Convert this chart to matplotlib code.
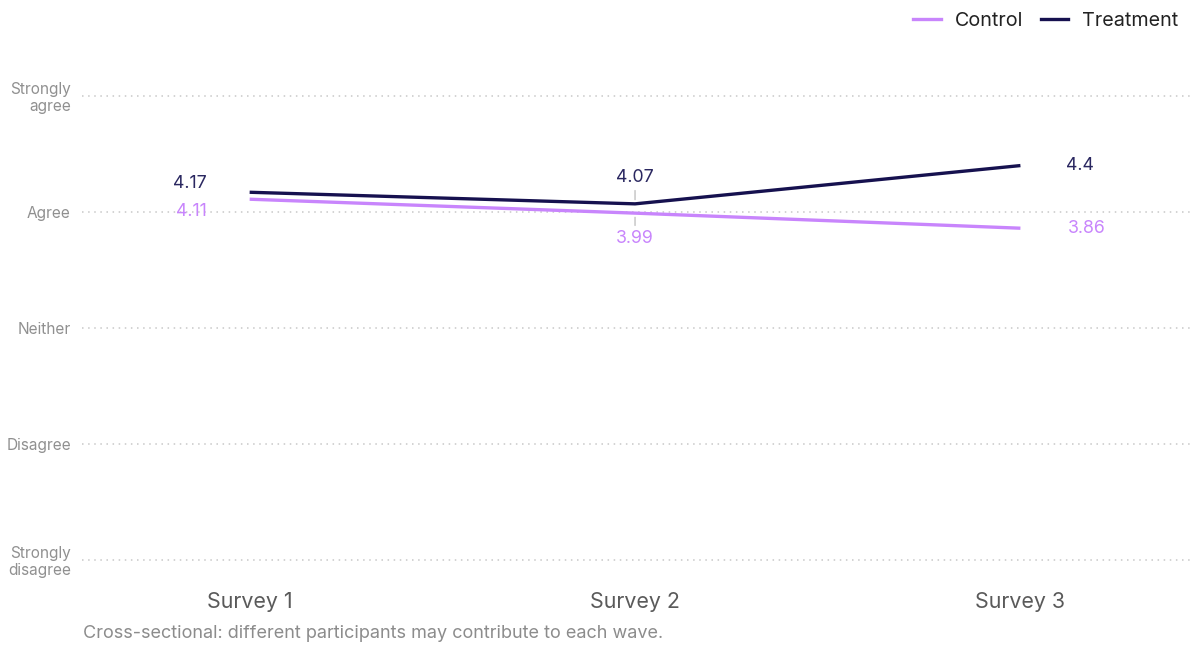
import matplotlib
matplotlib.use("Agg")
import matplotlib.pyplot as plt
from matplotlib.lines import Line2D

plt.rcParams['font.family'] = ['Inter', 'DejaVu Sans']

# data
surveys = ['Survey 1', 'Survey 2', 'Survey 3']
control = [4.11, 3.99, 3.86]
treatment = [4.17, 4.07, 4.4]
levels = [1, 2, 3, 4, 5]
level_labels = ['Strongly\ndisagree', 'Disagree', 'Neither', 'Agree', 'Strongly\nagree']

c_control = '#c885fc'
c_treat = '#16114f'

fig = plt.figure(figsize=(11.9, 6.46), dpi=100)
ax = fig.add_axes([82 / 1190, 0.1152, 1 - 82 / 1190, 0.7542])

x = list(range(len(surveys)))
for lv in levels:
    ax.axhline(lv, color='#c8c8c8', lw=1.1, ls=(0, (1, 3)), zorder=1)

ax.plot(x, control, color=c_control, lw=2.4, zorder=3, solid_capstyle='butt')
ax.plot(x, treatment, color=c_treat, lw=2.4, zorder=4, solid_capstyle='butt')

# value labels (offsets in pixels)
t_off = [(-60, 9), (0, 26), (60, 0)]
c_off = [(-58, -12), (0, -25), (66, 0)]
for i in x:
    lead = dict(arrowstyle='-', color='#bbbbbb', lw=0.9, shrinkA=1, shrinkB=3) if i == 1 else None
    ax.annotate(f'{treatment[i]:g}', (i, treatment[i]), xytext=t_off[i], textcoords='offset pixels',
                ha='center', va='center', fontsize=12.8, color='#2a2760', arrowprops=lead, zorder=5)
    ax.annotate(f'{control[i]:g}', (i, control[i]), xytext=c_off[i], textcoords='offset pixels',
                ha='center', va='center', fontsize=12.8, color=c_control, arrowprops=lead, zorder=5)

ax.set_xlim(-0.435, 2.44)
ax.set_ylim(0.9, 5.1)
ax.set_xticks(x)
ax.set_xticklabels(surveys, fontsize=15.4, color='#5a5a5a')
ax.set_yticks(levels)
ax.set_yticklabels(level_labels, fontsize=11.1, color='#909090', linespacing=1.15)
ax.tick_params(length=0)
ax.tick_params(axis='x', pad=15)
ax.tick_params(axis='y', pad=8)
for s in ax.spines.values():
    s.set_visible(False)

handles = [Line2D([], [], color=c_control, lw=2.4), Line2D([], [], color=c_treat, lw=2.4)]
fig.legend(handles, ['Control', 'Treatment'], loc='upper right', bbox_to_anchor=(1.0, 1.0),
           ncol=2, frameon=False, fontsize=14.2, handlelength=1.4, handletextpad=0.7,
           columnspacing=0.9, borderaxespad=0.2, labelcolor='#222222')

fig.text(83 / 1190, 1 - 633 / 646, 'Cross-sectional: different participants may contribute to each wave.',
         fontsize=13.0, color='#8c8c8c', va='center', ha='left')

fig.savefig('out.png', dpi=100)
